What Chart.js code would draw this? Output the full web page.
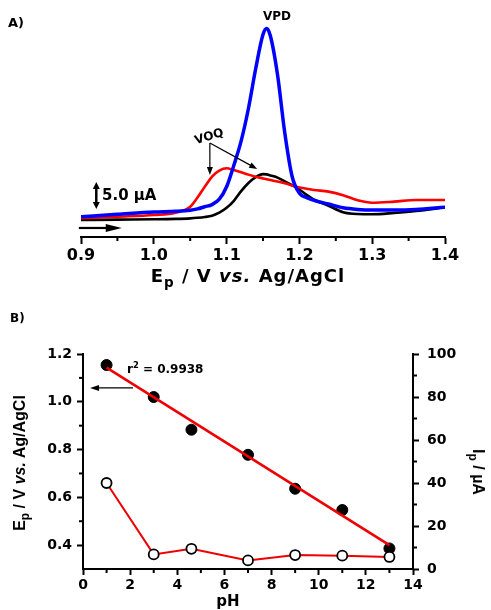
<!DOCTYPE html>
<html>
<head>
<meta charset="utf-8">
<script src="https://cdn.jsdelivr.net/npm/chart.js@4.4.1/dist/chart.umd.min.js"></script>
<style>
  body { margin: 0; background: #fff; }
  #wrap { position: relative; width: 491px; height: 610px; overflow: hidden; font-family: "DejaVu Sans", sans-serif; font-weight: bold; color: #000; }
  canvas { position: absolute; left: 0; }
  #chartA { top: 0; }
  #chartB { top: 300px; }
  .lbl { position: absolute; white-space: nowrap; line-height: 1; }
  .c { transform: translate(-50%, -50%); }
  sub { font-size: 75%; vertical-align: -0.35em; line-height: 0; }
  sup { font-size: 70%; vertical-align: 0.55em; line-height: 0; }
</style>
</head>
<body>
<div id="wrap">
  <canvas id="chartA" width="491" height="290"></canvas>
  <canvas id="chartB" width="491" height="310"></canvas>

  <div class="lbl" style="left:8px; top:16px; font-size:13px;">A)</div>
  <div class="lbl c" style="left:277px; top:16px; font-size:12px;">VPD</div>
  <div class="lbl c" style="left:209px; top:136px; font-size:12px; transform: translate(-50%,-50%) rotate(-17deg);">VOQ</div>
  <div class="lbl" style="left:102px; top:188px; font-size:15px;">5.0 µA</div>
  <div class="lbl c" style="left:248px; top:276px; font-size:18px; letter-spacing:1px;">E<sub>p</sub> / V <i>vs.</i> Ag/AgCl</div>

  <div class="lbl" style="left:10px; top:312px; font-size:12px;">B)</div>
  <div class="lbl" style="left:127px; top:363px; font-size:12px;">r<sup>2</sup> = 0.9938</div>
  <div class="lbl c" style="left:20px; top:463px; font-size:16px; font-family:'Liberation Sans', Arial, sans-serif; transform: translate(-50%,-50%) rotate(-90deg);">E<sub>p</sub> / V <i>vs.</i> Ag/AgCl</div>
  <div class="lbl c" style="left:478px; top:472px; font-size:16px; font-family:'Liberation Sans', Arial, sans-serif; transform: translate(-50%,-50%) rotate(90deg);">I<sub>p</sub> / µA</div>
  <div class="lbl c" style="left:228px; top:601px; font-size:15px;">pH</div>
</div>

<script>
// --- panel A: DPV curves (current in µA, offset baseline) ---
const potential = [0.90, 0.95, 1.00, 1.03, 1.05, 1.06, 1.07, 1.08, 1.09, 1.10, 1.11, 1.12, 1.13, 1.14, 1.15, 1.155, 1.16, 1.17, 1.18, 1.19, 1.20, 1.21, 1.22, 1.24, 1.26, 1.28, 1.30, 1.33, 1.36, 1.40];
const currentVPD = [3.76, 4.2, 4.63, 4.75, 4.95, 5.2, 5.6, 6.0, 7.0, 9.3, 13.3, 17.8, 23.8, 31.2, 37.5, 38.6, 37.3, 30.0, 19.2, 11.2, 8.1, 7.3, 6.8, 6.1, 5.4, 5.1, 5.0, 5.0, 5.1, 5.5];
const currentRed = [3.46, 3.75, 4.07, 4.5, 5.6, 7.3, 9.3, 11.2, 12.3, 12.72, 12.4, 12.0, 11.55, 11.15, 10.85, 10.7, 10.55, 10.27, 9.95, 9.55, 9.15, 8.95, 8.72, 8.4, 7.75, 6.8, 6.35, 6.55, 6.85, 6.85];
const currentBlack = [3.15, 3.22, 3.28, 3.35, 3.45, 3.55, 3.7, 3.95, 4.5, 5.4, 6.7, 8.5, 10.0, 11.1, 11.65, 11.6, 11.4, 11.0, 10.3, 9.6, 8.8, 7.8, 6.9, 5.8, 4.6, 4.25, 4.2, 4.45, 4.8, 5.5];
const ticksA = [0.9, 1.0, 1.1, 1.2, 1.3, 1.4];
const minorA = [0.95, 1.05, 1.15, 1.25, 1.35];

// --- panel B: pH dependence ---
const pH = [1, 3, 4.6, 7, 9, 11, 13];
const Ep = [1.154, 1.02, 0.883, 0.778, 0.636, 0.547, 0.386];
const Ip = [40, 6.8, 9.4, 4.0, 6.5, 6.2, 5.6];
const fitPH = [1, 13];
const fitEp = [1.143, 0.40];
const ticksEp = [0.4, 0.6, 0.8, 1.0, 1.2];
const minorEp = [0.5, 0.7, 0.9, 1.1];
const minorIp = [10, 30, 50, 70, 90];
const minorPH = [1, 3, 5, 7, 9, 11, 13];

const pts = (xs, ys) => xs.map((x, i) => ({ x: x, y: ys[i] }));

function arrowHead(ctx, x1, y1, x2, y2, len, wid) {
  const a = Math.atan2(y2 - y1, x2 - x1);
  ctx.beginPath();
  ctx.moveTo(x2, y2);
  ctx.lineTo(x2 - len * Math.cos(a) + wid / 2 * Math.sin(a), y2 - len * Math.sin(a) - wid / 2 * Math.cos(a));
  ctx.lineTo(x2 - len * Math.cos(a) - wid / 2 * Math.sin(a), y2 - len * Math.sin(a) + wid / 2 * Math.cos(a));
  ctx.closePath();
  ctx.fill();
}

function arrow(ctx, x1, y1, x2, y2, lw, len, wid) {
  const a = Math.atan2(y2 - y1, x2 - x1);
  ctx.lineWidth = lw;
  ctx.beginPath();
  ctx.moveTo(x1, y1);
  ctx.lineTo(x2 - len * 0.8 * Math.cos(a), y2 - len * 0.8 * Math.sin(a));
  ctx.stroke();
  arrowHead(ctx, x1, y1, x2, y2, len, wid);
}

// short minor tick marks, drawn outward from the axis line
const minorTicks = {
  id: 'minorTicks',
  afterDraw(chart, args, opts) {
    const ctx = chart.ctx;
    ctx.save();
    ctx.strokeStyle = '#000';
    ctx.lineWidth = 2;
    (opts.list || []).forEach(m => {
      const s = chart.scales[m.axis];
      m.values.forEach(v => {
        const p = s.getPixelForValue(v);
        ctx.beginPath();
        if (s.position === 'bottom') { ctx.moveTo(p, s.top); ctx.lineTo(p, s.top + 4); }
        else if (s.position === 'left') { ctx.moveTo(s.right, p); ctx.lineTo(s.right - 4, p); }
        else { ctx.moveTo(s.left, p); ctx.lineTo(s.left + 4, p); }
        ctx.stroke();
      });
    });
    ctx.restore();
  }
};

const arrowsA = {
  id: 'arrowsA',
  afterDraw(chart) {
    const ctx = chart.ctx, x = chart.scales.x, y = chart.scales.y;
    ctx.save();
    ctx.strokeStyle = '#000';
    ctx.fillStyle = '#000';
    // VOQ pointers
    const ox = x.getPixelForValue(1.077), oy = y.getPixelForValue(17.4);
    arrow(ctx, ox, oy, x.getPixelForValue(1.077), y.getPixelForValue(11.5), 1.2, 8, 6);
    arrow(ctx, ox, oy, x.getPixelForValue(1.142), y.getPixelForValue(12.6), 1.2, 8, 6);
    // 5 µA scale bar
    const sx = x.getPixelForValue(0.921), s1 = y.getPixelForValue(5.2), s2 = y.getPixelForValue(10.2);
    ctx.lineWidth = 2.5;
    ctx.beginPath(); ctx.moveTo(sx, s1 - 5); ctx.lineTo(sx, s2 + 5); ctx.stroke();
    arrowHead(ctx, sx, s1 - 1, sx, s2, 7, 7);
    arrowHead(ctx, sx, s2 + 1, sx, s1, 7, 7);
    // scan direction
    const ay = y.getPixelForValue(1.67);
    arrow(ctx, x.getPixelForValue(0.897), ay, x.getPixelForValue(0.956), ay, 2.2, 16, 8);
    ctx.restore();
  }
};

const arrowsB = {
  id: 'arrowsB',
  afterDraw(chart) {
    const ctx = chart.ctx, x = chart.scales.x, y = chart.scales.y;
    ctx.save();
    ctx.strokeStyle = '#000';
    ctx.fillStyle = '#000';
    const ay = y.getPixelForValue(1.058);
    arrow(ctx, x.getPixelForValue(2.12), ay, x.getPixelForValue(0.30), ay, 1.3, 9, 6);
    ctx.restore();
  }
};

const axisGrid = { drawOnChartArea: false, tickLength: 7, tickWidth: 2, tickColor: '#000' };
const axisBorder = { color: '#000', width: 2 };

new Chart(document.getElementById('chartA'), {
  type: 'line',
  data: {
    datasets: [
      { data: pts(potential, currentVPD), borderColor: '#0000ff', borderWidth: 3.5 },
      { data: pts(potential, currentRed), borderColor: '#ff0000', borderWidth: 2.6 },
      { data: pts(potential, currentBlack), borderColor: '#000000', borderWidth: 2.6 }
    ]
  },
  options: {
    responsive: false,
    animation: false,
    layout: { padding: { left: 81, right: 46, top: 21, bottom: 0 } },
    elements: { point: { radius: 0 }, line: { cubicInterpolationMode: 'monotone', fill: false } },
    plugins: {
      legend: { display: false },
      tooltip: { enabled: false },
      minorTicks: { list: [{ axis: 'x', values: minorA }] }
    },
    scales: {
      x: {
        type: 'linear', min: 0.9, max: 1.4,
        afterBuildTicks: s => { s.ticks = ticksA.map(v => ({ value: v })); },
        afterFit: s => { s.height = 53; },
        ticks: { color: '#000', padding: 2, maxRotation: 0, font: { family: 'DejaVu Sans', size: 16, weight: 'bold' }, callback: v => v.toFixed(1) },
        grid: axisGrid,
        border: axisBorder
      },
      y: { display: false, min: 0, max: 40 }
    }
  },
  plugins: [minorTicks, arrowsA]
});

new Chart(document.getElementById('chartB'), {
  type: 'line',
  data: {
    datasets: [
      { data: pts(pH, Ip), yAxisID: 'y1', borderColor: '#ee0000', borderWidth: 2, pointRadius: 5, pointBackgroundColor: '#fff', pointBorderColor: '#000', pointBorderWidth: 1.8, tension: 0 },
      { data: pts(fitPH, fitEp), yAxisID: 'y', borderColor: '#ee0000', borderWidth: 2.6, pointRadius: 0, tension: 0 },
      { data: pts(pH, Ep), yAxisID: 'y', showLine: false, pointRadius: 5.5, pointBackgroundColor: '#000', pointBorderColor: '#000', borderColor: '#000' }
    ]
  },
  options: {
    responsive: false,
    animation: false,
    layout: { padding: { left: 0, right: 0, top: 54, bottom: 0 } },
    plugins: {
      legend: { display: false },
      tooltip: { enabled: false },
      minorTicks: { list: [{ axis: 'x', values: minorPH }, { axis: 'y', values: minorEp }, { axis: 'y1', values: minorIp }] }
    },
    scales: {
      x: {
        type: 'linear', min: 0, max: 14,
        ticks: { stepSize: 2, color: '#000', padding: 2, maxRotation: 0, font: { family: 'DejaVu Sans', size: 14, weight: 'bold' } },
        afterFit: s => { s.height = 41; },
        grid: { ...axisGrid, tickLength: 6 },
        border: axisBorder
      },
      y: {
        position: 'left', min: 0.3, max: 1.2,
        afterBuildTicks: s => { s.ticks = ticksEp.map(v => ({ value: v })); },
        afterFit: s => { s.width = 83; },
        ticks: { color: '#000', padding: 5, font: { family: 'DejaVu Sans', size: 14, weight: 'bold' }, callback: v => v.toFixed(1) },
        grid: { ...axisGrid, tickLength: 6 },
        border: axisBorder
      },
      y1: {
        position: 'right', min: 0, max: 100,
        afterFit: s => { s.width = 78; },
        ticks: { stepSize: 20, color: '#000', padding: 8, font: { family: 'DejaVu Sans', size: 14, weight: 'bold' } },
        grid: { ...axisGrid, tickLength: 6 },
        border: axisBorder
      }
    }
  },
  plugins: [minorTicks, arrowsB]
});
</script>
</body>
</html>
